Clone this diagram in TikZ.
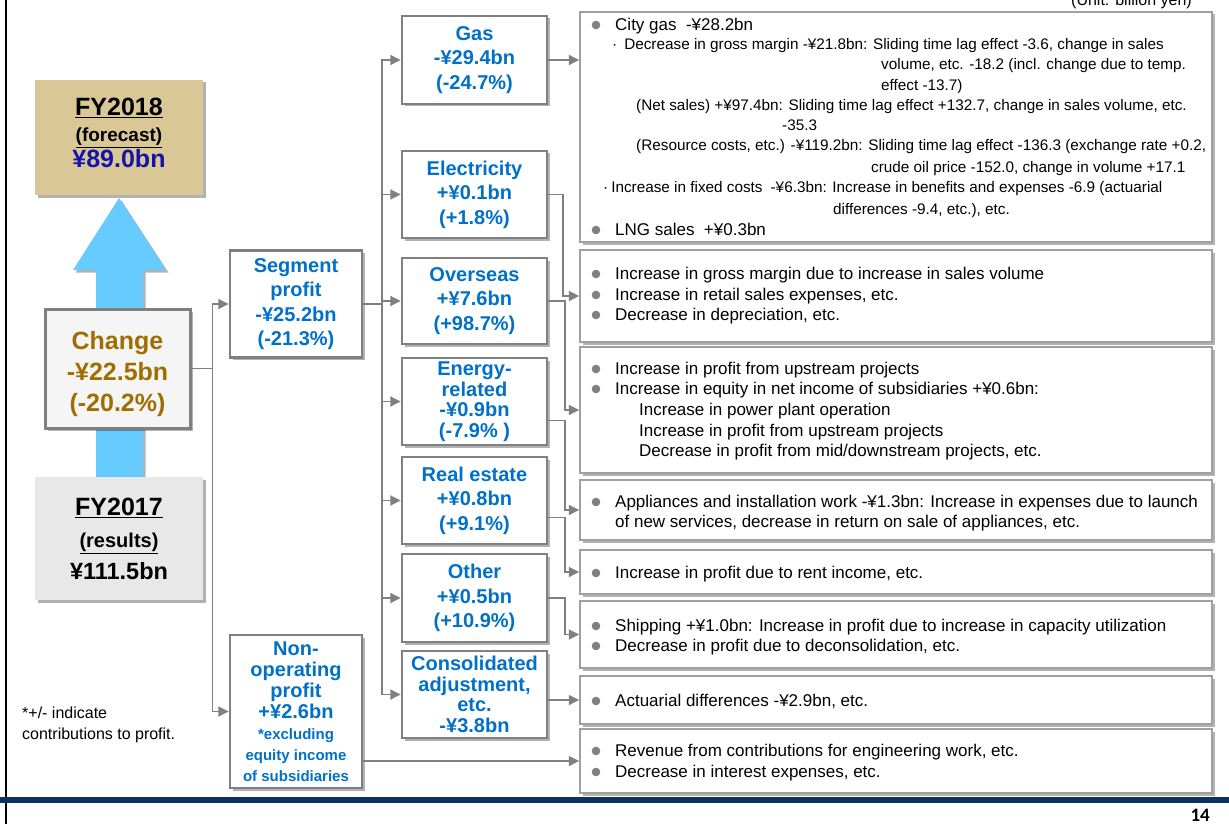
\documentclass[tikz,border=0pt]{standalone}
\usepackage{fontspec}
\setmainfont{Liberation Sans}
\newfontfamily\pagefont{Carlito}
\usetikzlibrary{arrows.meta,shadows,positioning}

\definecolor{segblue}{RGB}{0,112,200}
\definecolor{navytext}{RGB}{20,20,170}
\definecolor{changebrown}{RGB}{160,110,0}
\definecolor{tanfill}{RGB}{217,200,150}
\definecolor{arrowblue}{RGB}{102,204,255}
\definecolor{boxgray}{RGB}{128,128,128}
\definecolor{detgray}{RGB}{160,160,160}
\definecolor{dotgray}{RGB}{128,128,128}
\definecolor{navyline}{RGB}{12,50,98}

\newcommand{\midfont}{\fontsize{20}{24.5}\selectfont\bfseries}
\newcommand{\leftfont}{\fontsize{25}{26}\selectfont\bfseries}
\newcommand{\detfont}{\fontsize{17}{20.5}\selectfont}
\newcommand{\gasfont}{\fontsize{15.3}{20.5}\selectfont}
\newcommand{\notefont}{\fontsize{16}{19}\selectfont}

\tikzset{
  shadowed/.style={drop shadow={shadow xshift=2.5pt,shadow yshift=-2.5pt,opacity=0.3,fill=black}},
  midbox/.style={draw=boxgray, line width=2.5pt, fill=white, shadowed, align=center,
    text=segblue, font=\midfont, inner sep=0pt, minimum width=145pt},
  detbox/.style={draw=detgray, line width=1.5pt, fill=white, shadowed, minimum width=632pt},
  link/.style={draw=boxgray, line width=1.8pt, -{Triangle[length=10.5pt,width=10pt]}},
  dtext/.style={anchor=base west, inner sep=0pt, font=\detfont},
  gtext/.style={anchor=base west, inner sep=0pt, font=\gasfont},
  lefttext/.style={align=center, inner sep=0pt, font=\leftfont}
}

\begin{document}
\begin{tikzpicture}[x=1pt,y=-1pt]
\useasboundingbox (0,0) rectangle (1229,824);

% Slide frame
\draw[line width=1.5pt] (6,0) -- (6,824);
\fill[navyline] (0,797) rectangle (1229,803);
\node[anchor=base east, inner sep=0pt, font={\pagefont\bfseries\fontsize{19}{19}\selectfont}] (page) at (1210,821) {14};
\node[anchor=base east, inner sep=0pt, font=\notefont] (unit) at (1192,6) {(Unit: billion yen)};

% Left column
\fill[arrowblue, shadowed] (96,482) -- (96,270) -- (73,270) -- (119,198) -- (166,270) -- (143,270) -- (143,482) -- cycle;
\node[fill=tanfill, shadowed, minimum width=168pt, minimum height=115pt] (fy18) at (119,137.5) {};
\node[lefttext] (fy18txt) at (119,133) {\underline{FY2018}\\{\fontsize{19}{19}\selectfont\underline{(forecast)}}\\\textcolor{navytext}{¥89.0bn}};
\node[fill=black!9, shadowed, minimum width=168pt, minimum height=123pt] (fy17) at (119,538.5) {};
\node[lefttext, font={\fontsize{25}{32}\selectfont\bfseries}] (fy17txt) at (119,539) {\underline{FY2017}\\{\fontsize{20}{20}\selectfont\underline{(results)}}\\{\fontsize{23.5}{24}\selectfont ¥111.5bn}};
\node[draw=boxgray, line width=3pt, fill=black!4, shadowed, minimum width=145pt, minimum height=119pt,
  align=center, inner sep=0pt, text=changebrown, font={\fontsize{25}{31}\selectfont\bfseries}] (change) at (117.5,368.5) {\rule{0pt}{28.5pt}Change\\-¥22.5bn\\(-20.2\%)};

% Footnote
\node[dtext, font=\notefont] (note1) at (22,718.5) {*+/- indicate};
\node[dtext, font=\notefont] (note2) at (22,739.5) {contributions to profit.};

% Profit boxes
\node[midbox, minimum width=132pt, minimum height=107pt] (segment) at (296,304) {Segment\\profit\\-¥25.2bn\\(-21.3\%)};
\node[midbox, minimum width=132pt, minimum height=153pt, font={\fontsize{20}{21}\selectfont\bfseries}] (nonop) at (296,711.5)
  {Non-\\operating\\profit\\+¥2.6bn\\{\fontsize{15}{15}\selectfont *excluding}\\{\fontsize{15}{15}\selectfont equity income}\\{\fontsize{15}{15}\selectfont of subsidiaries}};

% Segment boxes
\node[midbox, minimum height=88pt] (gas) at (474.5,60) {Gas\\-¥29.4bn\\(-24.7\%)};
\node[midbox, minimum height=87pt] (elec) at (474.5,194.5) {Electricity\\+¥0.1bn\\(+1.8\%)};
\node[midbox, minimum height=86pt] (overseas) at (474.5,301) {Overseas\\+¥7.6bn\\(+98.7\%)};
\node[midbox, minimum height=87pt, font={\fontsize{20}{20.5}\selectfont\bfseries}] (energy) at (474.5,401.5) {Energy-\\related\\-¥0.9bn\\(-7.9\% )};
\node[midbox, minimum height=87pt] (realestate) at (474.5,500.5) {Real estate\\+¥0.8bn\\(+9.1\%)};
\node[midbox, minimum height=88pt] (other) at (474.5,598) {Other\\+¥0.5bn\\(+10.9\%)};
\node[midbox, minimum height=87pt, font={\fontsize{20}{20.5}\selectfont\bfseries}] (consol) at (474.5,694.5) {Consolidated\\adjustment,\\etc.\\-¥3.8bn};

% Detail boxes
\node[detbox, minimum height=230pt] (dgas) at (896,127) {};
\node[detbox, minimum height=92pt] (delec) at (896,296) {};
\node[detbox, minimum height=126pt] (doverseas) at (896,410) {};
\node[detbox, minimum height=60pt] (denergy) at (896,510) {};
\node[detbox, minimum height=44pt] (drealestate) at (896,572) {};
\node[detbox, minimum height=67pt] (dother) at (896,634.5) {};
\node[detbox, minimum height=48pt] (dconsol) at (896,700) {};
\node[detbox, minimum height=64pt] (dnonop) at (896,761) {};

% Connectors
\draw[link] (change.east) -- ++(21,0) |- (segment.west);
\draw[link] (change.east) -- ++(21,0) |- (nonop.west);
\foreach \m in {gas,elec,overseas,energy,realestate,other,consol}
  \draw[link] (segment.east) -- ++(19,0) |- (\m.west);
\draw[link] (gas.east) -- (gas.east -| dgas.west);
\draw[link] (elec.east) -- ++(15,0) |- (delec.west);
\draw[link] (overseas.east) -- ++(17,0) |- (doverseas.west);
\draw[link] ([yshift=-19pt]energy.east) -- ++(17,0) |- (denergy.west);
\draw[link] ([yshift=-17pt]realestate.east) -- ++(17,0) |- (drealestate.west);
\draw[link] (other.east) -- ++(17,0) |- (dother.west);
\draw[link] (dconsol.west -| consol.east) -- (dconsol.west);
\draw[link] (dnonop.west -| nonop.east) -- (dnonop.west);

% Bullets
\foreach \y in {25,230,274,295,315,369,389,502,573,626,646,701,751,772}
  \fill[dotgray] (596,\y) circle (4.3pt);

% Gas details
\node[dtext] (g1) at (615,30.5) {City gas~~-¥28.2bn};
\node[gtext] (g2) at (612,50) {·\hspace{7pt}Decrease in gross margin -¥21.8bn: Sliding time lag effect -3.6, change in sales};
\node[gtext] (g3) at (881,70) {volume, etc. -18.2 (incl. change due to temp.};
\node[gtext] (g4) at (881,91) {effect -13.7)};
\node[gtext] (g5) at (636,111) {(Net sales) +¥97.4bn: Sliding time lag effect +132.7, change in sales volume, etc.};
\node[gtext] (g6) at (782,131) {-35.3};
\node[gtext] (g7) at (636,151) {(Resource costs, etc.) -¥119.2bn: Sliding time lag effect -136.3 (exchange rate +0.2,};
\node[gtext] (g8) at (871,172) {crude oil price -152.0, change in volume +17.1};
\node[gtext] (g9) at (603,193) {·\hspace{3pt}Increase in fixed costs\hspace{8pt}-¥6.3bn: Increase in benefits and expenses -6.9 (actuarial};
\node[gtext] (g10) at (833,214) {differences -9.4, etc.), etc.};
\node[dtext] (g11) at (615,235.5) {LNG sales~~+¥0.3bn};

% Electricity details
\node[dtext] (e1) at (615,279.5) {Increase in gross margin due to increase in sales volume};
\node[dtext] (e2) at (615,300.5) {Increase in retail sales expenses, etc.};
\node[dtext] (e3) at (615,320.5) {Decrease in depreciation, etc.};

% Overseas details
\node[dtext] (o1) at (615,374.5) {Increase in profit from upstream projects};
\node[dtext] (o2) at (615,394.5) {Increase in equity in net income of subsidiaries +¥0.6bn:};
\node[dtext] (o3) at (639,415.5) {Increase in power plant operation};
\node[dtext] (o4) at (639,436.5) {Increase in profit from upstream projects};
\node[dtext] (o5) at (639,456.5) {Decrease in profit from mid/downstream projects, etc.};

% Energy-related details
\node[dtext] (r1) at (615,507.5) {Appliances and installation work -¥1.3bn: Increase in expenses due to launch};
\node[dtext] (r2) at (615,527.5) {of new services, decrease in return on sale of appliances, etc.};

% Real estate, other, adjustment, non-operating details
\node[dtext] (s1) at (615,578.5) {Increase in profit due to rent income, etc.};
\node[dtext] (x1) at (615,631.5) {Shipping +¥1.0bn: Increase in profit due to increase in capacity utilization};
\node[dtext] (x2) at (615,651.5) {Decrease in profit due to deconsolidation, etc.};
\node[dtext] (c1) at (615,706.5) {Actuarial differences -¥2.9bn, etc.};
\node[dtext] (n1) at (615,756.5) {Revenue from contributions for engineering work, etc.};
\node[dtext] (n2) at (615,777.5) {Decrease in interest expenses, etc.};
\end{tikzpicture}
\end{document}
